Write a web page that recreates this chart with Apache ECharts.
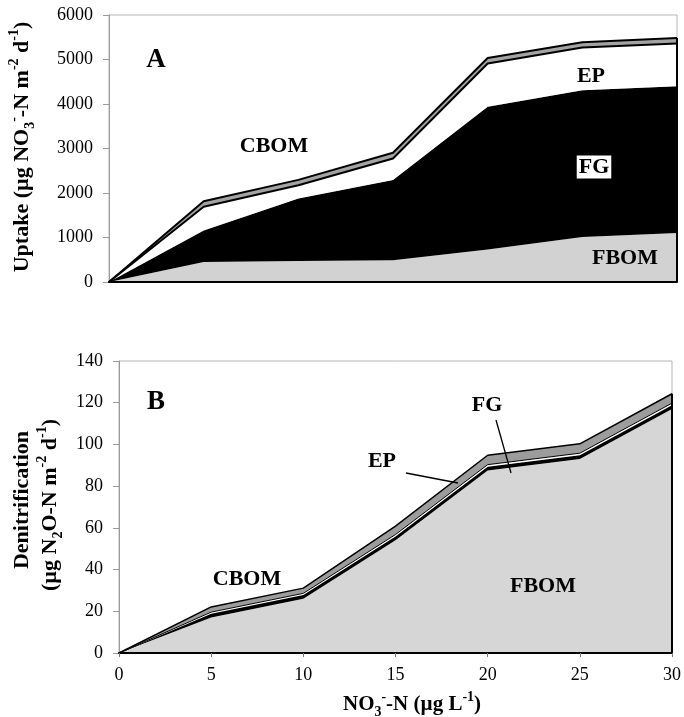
<!DOCTYPE html>
<html>
<head>
<meta charset="utf-8">
<script src="https://cdn.jsdelivr.net/npm/echarts@6/dist/echarts.min.js"></script>
<style>
html,body{margin:0;padding:0;background:#fff;}
#chart{width:684px;height:717px;}
</style>
</head>
<body>
<div id="chart"></div>
<script>
// ---- data ----
const categories = ['0', '5', '10', '15', '20', '25', '30'];
// Panel A: uptake (stacked components)
const uptakeFBOM = [0, 450, 470, 490, 730, 1010, 1100];
const uptakeFG   = [0, 710, 1405, 1800, 3210, 3300, 3300];
const uptakeEP   = [0, 530, 300, 485, 970, 960, 960];
const uptakeCBOM = [0, 125, 120, 130, 125, 120, 125];
// Panel B: denitrification (stacked components)
const denitFBOM = [0, 17, 26, 54, 87.5, 93, 117];
const denitFG   = [0, 1.8, 1.8, 1.8, 1.8, 1.8, 1.8];
const denitEP   = [0, 0.8, 0.8, 1, 1, 1, 1];
const denitCBOM = [0, 2.5, 2.5, 4, 4.5, 4.5, 4.5];
const uptakeTicks = [0, 1000, 2000, 3000, 4000, 5000, 6000];
const denitTicks = [0, 20, 40, 60, 80, 100, 120, 140];

const SERIF = '"Liberation Serif", "Times New Roman", serif';
const lastIdx = categories.length - 1;
const sumAt = (arrs, i) => arrs.reduce((s, a) => s + a[i], 0);
const totalA = sumAt([uptakeFBOM, uptakeFG, uptakeEP, uptakeCBOM], lastIdx);
const totalB = sumAt([denitFBOM, denitFG, denitEP, denitCBOM], lastIdx);

function area(name, data, stack, grid, fill, lineW, z) {
  return {
    name: name, type: 'line', stack: stack, data: data,
    xAxisIndex: grid, yAxisIndex: grid,
    symbol: 'none', showSymbol: false, z: z || 2,
    areaStyle: { color: fill, opacity: 1 },
    lineStyle: { color: '#000', width: lineW },
    emphasis: { disabled: true }
  };
}

const chart = echarts.init(document.getElementById('chart'), null, { renderer: 'canvas' });

const yAxisCommon = {
  type: 'value',
  axisLine: { show: true, lineStyle: { color: '#9a9a9a', width: 1 } },
  axisTick: { show: true, length: 6, lineStyle: { color: '#9a9a9a' } },
  splitLine: { show: false },
  axisLabel: { color: '#000', fontFamily: SERIF, fontSize: 18, margin: 16, formatter: (v) => String(v) }
};

const boldLabel = (txt, x, y, extra) => Object.assign({
  type: 'text', x: x, y: y, z: 100,
  style: Object.assign({
    text: txt, fill: '#000', fontFamily: SERIF, fontWeight: 'bold', fontSize: 22,
    align: 'center', verticalAlign: 'middle', textAlign: 'center', textVerticalAlign: 'middle'
  }, extra || {})
});

const richStyles = (size) => ({
  b: { fontFamily: SERIF, fontWeight: 'bold', fontSize: size, lineHeight: size + 8, fill: '#000' },
  sub: { fontFamily: SERIF, fontWeight: 'bold', fontSize: Math.round(size * 0.65), lineHeight: Math.round(size * 0.65), verticalAlign: 'bottom', fill: '#000' },
  sup: { fontFamily: SERIF, fontWeight: 'bold', fontSize: Math.round(size * 0.65), lineHeight: Math.round(size * 0.65), verticalAlign: 'top', fill: '#000' }
});

const titleText = (txt, x, y, rot, size) => ({
  type: 'text', x: x, y: y, rotation: rot, z: 100,
  style: {
    text: txt, rich: richStyles(size), fill: '#000',
    fontFamily: SERIF, fontWeight: 'bold', fontSize: size,
    align: 'center', verticalAlign: 'middle', textAlign: 'center', textVerticalAlign: 'middle'
  }
});

const option = {
  animation: false,
  backgroundColor: '#fff',
  grid: [
    { left: 109, top: 15, width: 568, height: 267, show: true, borderColor: '#b5b5b5', borderWidth: 1, backgroundColor: 'transparent' },
    { left: 119, top: 361, width: 562, height: 292, show: true, borderColor: '#b5b5b5', borderWidth: 1, backgroundColor: 'transparent' }
  ],
  xAxis: [
    { type: 'category', gridIndex: 0, data: categories, boundaryGap: false,
      axisLine: { show: true, lineStyle: { color: '#000', width: 2 } },
      axisTick: { show: false }, axisLabel: { show: false }, splitLine: { show: false }, z: 10 },
    { type: 'category', gridIndex: 1, data: categories, boundaryGap: false,
      axisLine: { show: true, lineStyle: { color: '#000', width: 2 } },
      axisTick: { show: true, length: 4, alignWithLabel: true, lineStyle: { color: '#777' } },
      axisLabel: { color: '#000', fontFamily: SERIF, fontSize: 18, margin: 13 },
      splitLine: { show: false }, z: 10 }
  ],
  yAxis: [
    Object.assign({}, yAxisCommon, { gridIndex: 0, min: uptakeTicks[0], max: uptakeTicks[uptakeTicks.length - 1], interval: uptakeTicks[1] - uptakeTicks[0] }),
    Object.assign({}, yAxisCommon, { gridIndex: 1, min: denitTicks[0], max: denitTicks[denitTicks.length - 1], interval: denitTicks[1] - denitTicks[0] })
  ],
  series: [
    area('FBOM', uptakeFBOM, 'a', 0, '#d2d2d2', 0, 2),
    area('FG', uptakeFG, 'a', 0, '#000', 0.5, 2),
    area('EP', uptakeEP, 'a', 0, '#fff', 2, 4),
    Object.assign(area('CBOM', uptakeCBOM, 'a', 0, '#a3a3a3', 2, 3), {
      markLine: { silent: true, symbol: 'none', label: { show: false },
        lineStyle: { color: '#000', width: 2, type: 'solid' },
        data: [[{ coord: [lastIdx, 0] }, { coord: [lastIdx, totalA] }]] }
    }),
    area('FBOM', denitFBOM, 'b', 1, '#d6d6d6', 0, 2),
    area('FG', denitFG, 'b', 1, '#000', 1, 2),
    area('EP', denitEP, 'b', 1, '#fff', 1, 4),
    Object.assign(area('CBOM', denitCBOM, 'b', 1, '#9c9c9c', 1.5, 3), {
      markLine: { silent: true, symbol: 'none', label: { show: false },
        lineStyle: { color: '#000', width: 2, type: 'solid' },
        data: [[{ coord: [lastIdx, 0] }, { coord: [lastIdx, totalB] }]] }
    })
  ],
  graphic: [
    // Panel A annotations
    boldLabel('A', 156, 60, { fontSize: 27 }),
    boldLabel('CBOM', 274, 146),
    boldLabel('EP', 591, 76),
    boldLabel('FG', 594, 167, { backgroundColor: '#fff', padding: [1, 2, 0, 2] }),
    boldLabel('FBOM', 625, 258),
    // Panel B annotations
    boldLabel('B', 156, 402, { fontSize: 27 }),
    boldLabel('FG', 487, 405),
    boldLabel('EP', 382, 461),
    boldLabel('CBOM', 247, 579),
    boldLabel('FBOM', 543, 586),
    { type: 'line', z: 100, shape: { x1: 406, y1: 473, x2: 458, y2: 483 }, style: { stroke: '#000', lineWidth: 1.3 } },
    { type: 'line', z: 100, shape: { x1: 496, y1: 420, x2: 511, y2: 473 }, style: { stroke: '#000', lineWidth: 1.3 } },
    // Axis titles
    titleText('{b|Uptake (\u00b5g NO}{sub|3}{sup|-}{b|-N m}{sup|-2}{b| d}{sup|-1}{b|)}', 22, 147, Math.PI / 2, 22),
    titleText('{b|Denitrification}', 22, 500, Math.PI / 2, 22),
    titleText('{b|(\u00b5g N}{sub|2}{b|O-N m}{sup|-2}{b| d}{sup|-1}{b|)}', 50, 505, Math.PI / 2, 22),
    titleText('{b|NO}{sub|3}{sup|-}{b|-N (\u00b5g L}{sup|-1}{b|)}', 412, 705, 0, 21)
  ]
};
chart.setOption(option);
</script>
</body>
</html>
